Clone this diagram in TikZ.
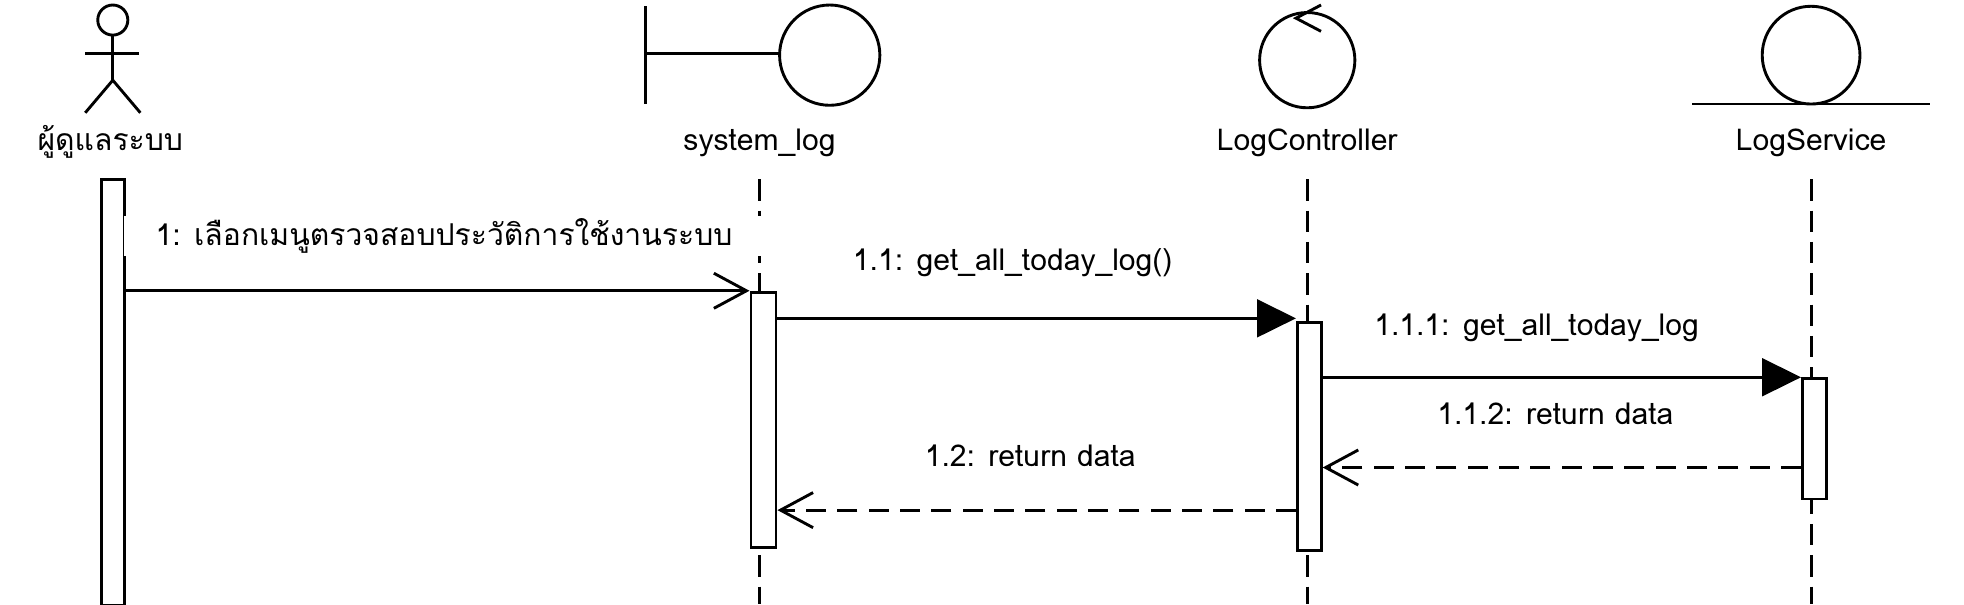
\documentclass[tikz,border=0pt]{standalone}
\usepackage{fontspec}
\setmainfont[Script=Thai]{Loma}
\usetikzlibrary{arrows.meta}
\begin{document}
\begin{tikzpicture}[x=1pt,y=-1pt,line width=2.3pt,
  lifeline/.style={dash pattern=on 17pt off 8pt},
  actbox/.style={draw,fill=white,inner sep=0pt,anchor=north west},
  callmsg/.style={-{Triangle[length=31pt,width=30pt]}},
  retmsg/.style={dash pattern=on 16pt off 9pt,-{Straight Barb[length=26pt,width=28pt]}},
  openmsg/.style={-{Straight Barb[length=26pt,width=28pt]}},
  headlbl/.style={anchor=base,font=\fontsize{24}{28}\selectfont},
  msglbl/.style={anchor=base,font=\fontsize{24}{28}\selectfont}]
\useasboundingbox (0,0) rectangle (1567,482);
% actor
\draw (90,16) circle (12);
\draw (90,28) -- (90,64);
\draw (68,43) -- (111,43);
\draw (68,90) -- (90,64) -- (112,90);
\node[headlbl] (actor) at (88,120) {ผู้ดูแลระบบ};
% boundary
\draw (515,5) -- (515,83);
\draw (515,43) -- (622,43);
\draw (662,44) circle (40);
\node[headlbl] (syslog) at (606,120) {system\_log};
% control
\draw (1043,48) circle (38);
\draw (1054,4) -- (1034,14.5) -- (1054,25);
\node[headlbl] (ctrl) at (1043,120) {LogController};
% entity
\draw (1445,44) circle (39);
\draw (1350,83) -- (1540,83);
\node[headlbl] (svc) at (1445,120) {LogService};
% lifelines
\draw[lifeline] (606,143) -- (606,482);
\draw[lifeline] (1043,143) -- (1043,482);
\draw[lifeline] (1445,143) -- (1445,482);
% activation bars
\node[actbox,minimum width=18pt,minimum height=340pt] (acbar) at (80,142) {};
\node[actbox,minimum width=20pt,minimum height=204pt] (slbar) at (598,232) {};
\node[actbox,minimum width=19pt,minimum height=182pt] (lcbar) at (1034,256) {};
\node[actbox,minimum width=19pt,minimum height=96pt] (lsbar) at (1437,301) {};
% messages
\coordinate (y11) at (0,254);
\coordinate (y112) at (0,373);
\coordinate (y12) at (0,407);
\node[msglbl,anchor=base west,fill=white,inner xsep=25pt,inner ysep=2pt] (l1) at (98,196) {1: เลือกเมนูตรวจสอบประวัติการใช้งานระบบ};
\draw[openmsg] (acbar.east |- slbar.north) -- (slbar.north west);
\draw[callmsg] (slbar.east |- y11) -- (lcbar.west |- y11);
\node[msglbl] (l11) at (808,216) {1.1: get\_all\_today\_log()};
\draw[callmsg] (lcbar.east |- lsbar.north) -- (lsbar.north west);
\node[msglbl] (l111) at (1226,268) {1.1.1: get\_all\_today\_log};
\draw[retmsg] (lsbar.west |- y112) -- (lcbar.east |- y112);
\node[msglbl] (l112) at (1241,339) {1.1.2: return data};
\draw[retmsg] (lcbar.west |- y12) -- (slbar.east |- y12);
\node[msglbl] (l12) at (822,372) {1.2: return data};
\end{tikzpicture}
\end{document}
